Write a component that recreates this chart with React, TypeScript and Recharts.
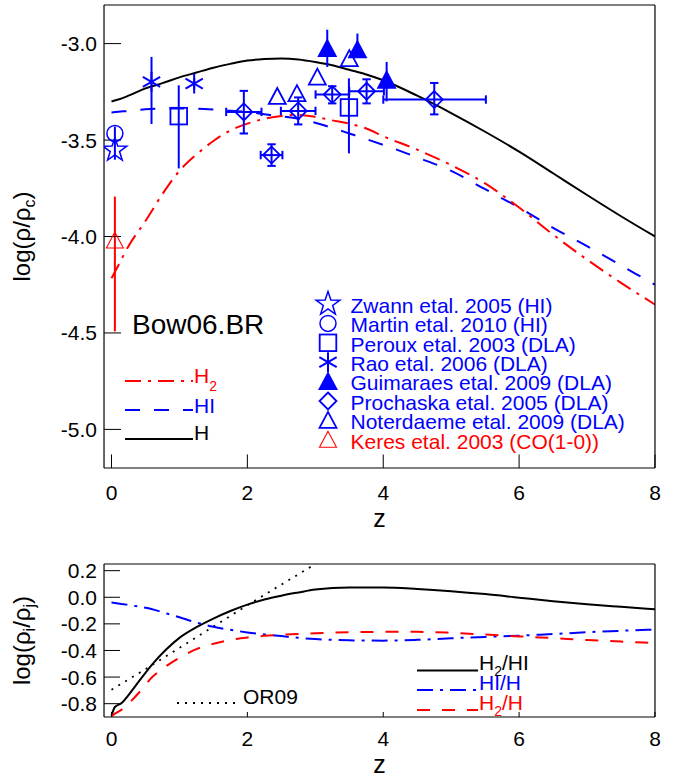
import React from 'react'
import { ComposedChart, Line, Scatter, XAxis, YAxis, ErrorBar, Legend } from 'recharts'

const BLUE = '#0000ff'
const RED = '#ff0000'
const FONT = '"Liberation Sans", Arial, Helvetica, sans-serif'

// model curves, upper panel: log(rho/rho_c) against z
const zModel = [0, 0.1, 0.25, 0.5, 0.75, 1, 1.25, 1.5, 1.75, 2, 2.25, 2.5, 2.75, 3, 3.25, 3.5, 3.75, 4, 4.5, 5, 5.5, 6, 6.5, 7, 7.5, 8]
const logH = [-3.3, -3.29, -3.27, -3.232, -3.205, -3.175, -3.15, -3.125, -3.105, -3.088, -3.08, -3.077, -3.082, -3.095, -3.112, -3.136, -3.16, -3.19, -3.27, -3.36, -3.457, -3.56, -3.672, -3.785, -3.895, -4.0]
const logHI = [-3.357, -3.353, -3.35, -3.34, -3.337, -3.337, -3.338, -3.342, -3.348, -3.355, -3.366, -3.377, -3.39, -3.41, -3.437, -3.466, -3.495, -3.525, -3.59, -3.66, -3.755, -3.85, -3.955, -4.05, -4.15, -4.25]
const logH2 = [-4.216, -4.15, -4.05, -3.92, -3.78, -3.66, -3.575, -3.505, -3.45, -3.415, -3.39, -3.375, -3.37, -3.38, -3.398, -3.415, -3.44, -3.48, -3.55, -3.63, -3.725, -3.85, -3.99, -4.12, -4.24, -4.353]

// ratio curves, lower panel
const zRatio = [0, 0.05, 0.15, 0.25, 0.4, 0.6, 0.8, 1, 1.25, 1.5, 1.75, 2, 2.25, 2.5, 2.75, 3, 3.5, 4, 4.5, 5, 5.5, 6, 6.5, 7, 7.5, 8]
const ratioH2HI = [-0.89, -0.825, -0.795, -0.735, -0.635, -0.505, -0.395, -0.305, -0.225, -0.16, -0.103, -0.055, -0.017, 0.012, 0.036, 0.058, 0.074, 0.074, 0.063, 0.046, 0.024, -0.003, -0.03, -0.053, -0.072, -0.09]
const ratioHIH = [-0.04, -0.043, -0.05, -0.058, -0.07, -0.09, -0.12, -0.15, -0.19, -0.222, -0.245, -0.264, -0.279, -0.292, -0.305, -0.314, -0.324, -0.326, -0.32, -0.308, -0.298, -0.289, -0.276, -0.263, -0.252, -0.243]
const ratioH2H = [-0.894, -0.875, -0.845, -0.8, -0.72, -0.6, -0.52, -0.455, -0.39, -0.35, -0.32, -0.302, -0.29, -0.282, -0.276, -0.27, -0.263, -0.26, -0.26, -0.267, -0.28, -0.294, -0.307, -0.321, -0.333, -0.344]
const zOR09 = [0, 0.5, 1, 1.5, 2, 2.5, 3, 3.3]
const ratioOR09 = [-0.695, -0.54, -0.38, -0.22, -0.06, 0.095, 0.25, 0.345]

// observations: z, log value, y errors [minus, plus], x errors
const zwaan = [{ z: 0.05, y: -3.552, ey: [0.05, 0.05] }]
const martin = [{ z: 0.05, y: -3.466, ey: [0.035, 0.035] }]
const peroux = [
  { z: 0.99, y: -3.376, ey: [0.271, 0.16] },
  { z: 3.495, y: -3.331, ey: [0.238, 0.151] },
]
const rao = [
  { z: 0.589, y: -3.198, ey: [0.219, 0.129] },
  { z: 1.217, y: -3.207, ey: [0.03, 0.03] },
]
const guimaraes = [
  { z: 3.176, y: -3.026, ey: [0.095, 0.098] },
  { z: 3.62, y: -3.033, ey: [0.03, 0.085] },
  { z: 4.05, y: -3.19, ey: [0.11, 0.095] },
]
const prochaska = [
  { z: 1.948, y: -3.354, ey: [0.112, 0.109], ex: [0.26, 0.26] },
  { z: 2.356, y: -3.578, ey: [0.056, 0.056], ex: [0.16, 0.16] },
  { z: 2.748, y: -3.349, ey: [0.07, 0.07], ex: [0.255, 0.255] },
  { z: 3.249, y: -3.264, ey: [0.046, 0.043], ex: [0.245, 0.245] },
  { z: 3.755, y: -3.247, ey: [0.063, 0.062], ex: [0.255, 0.255] },
  { z: 4.751, y: -3.29, ey: [0.077, 0.086], ex: [0.75, 0.76] },
]
const noterdaeme = [
  { z: 2.44, y: -3.274 },
  { z: 2.73, y: -3.259 },
  { z: 3.03, y: -3.174 },
  { z: 3.5, y: -3.078 },
]
const keres = [{ z: 0.05, y: -4.021, ey: [0.471, 0.228] }]

const xMajor = [0, 2, 4, 6, 8]
const topYMajor = [-5.0, -4.5, -4.0, -3.5, -3.0]
const botYMajor = [-0.8, -0.6, -0.4, -0.2, 0.0, 0.2]

const steps = (a: number, b: number, d: number) =>
  Array.from({ length: Math.round((b - a) / d) + 1 }, (_, i) => +(a + i * d).toFixed(3))
const xMinor = steps(0, 8, 0.5)
const topYMinor = steps(-5.2, -2.8, 0.1)
const botYMinor = steps(-0.9, 0.25, 0.05)

const pts = (zs: number[], ys: number[]) => zs.map((z, i) => ({ z, y: ys[i] }))

const DASH = '15 14'
const DASHDOT = '16 7 3 7'
const DASH_RED = '13 12'
const DOTS = '2 6'

type P = { cx?: number; cy?: number }

const starShape = (color: string) => (p: P) => {
  const { cx = 0, cy = 0 } = p
  const v: string[] = []
  for (let i = 0; i < 10; i++) {
    const r = i % 2 ? 4.9 : 12.5
    const a = -Math.PI / 2 + (i * Math.PI) / 5
    v.push(`${cx + r * Math.cos(a)},${cy + r * Math.sin(a)}`)
  }
  return <polygon points={v.join(' ')} fill="none" stroke={color} strokeWidth={1.5} />
}
const circleShape = (color: string) => (p: P) => (
  <circle cx={p.cx} cy={p.cy} r={8} fill="none" stroke={color} strokeWidth={1.5} />
)
const squareShape = (color: string) => (p: P) => {
  const { cx = 0, cy = 0 } = p
  return <rect x={cx - 8.3} y={cy - 8.3} width={16.6} height={16.6} fill="none" stroke={color} strokeWidth={1.8} />
}
const asteriskShape = (color: string) => (p: P) => {
  const { cx = 0, cy = 0 } = p
  const dx = 10 * Math.cos(Math.PI / 6)
  const dy = 10 * Math.sin(Math.PI / 6)
  return (
    <g stroke={color} strokeWidth={2}>
      <line x1={cx} y1={cy - 10} x2={cx} y2={cy + 10} />
      <line x1={cx - dx} y1={cy - dy} x2={cx + dx} y2={cy + dy} />
      <line x1={cx - dx} y1={cy + dy} x2={cx + dx} y2={cy - dy} />
    </g>
  )
}
const triangleShape = (color: string, filled: boolean, sw = 1.8) => (p: P) => {
  const { cx = 0, cy = 0 } = p
  const v = `${cx},${cy - 8.5} ${cx - 8.5},${cy + 7.5} ${cx + 8.5},${cy + 7.5}`
  return <polygon points={v} fill={filled ? color : 'none'} stroke={color} strokeWidth={sw} strokeLinejoin="miter" />
}
const diamondShape = (color: string) => (p: P) => {
  const { cx = 0, cy = 0 } = p
  const v = `${cx},${cy - 8.5} ${cx + 8.5},${cy} ${cx},${cy + 8.5} ${cx - 8.5},${cy}`
  return <polygon points={v} fill="none" stroke={color} strokeWidth={1.8} />
}

const sources = [
  { name: 'Zwann etal. 2005 (HI)', color: BLUE, shape: starShape(BLUE) },
  { name: 'Martin etal. 2010 (HI)', color: BLUE, shape: circleShape(BLUE) },
  { name: 'Peroux etal. 2003 (DLA)', color: BLUE, shape: squareShape(BLUE) },
  { name: 'Rao etal. 2006 (DLA)', color: BLUE, shape: asteriskShape(BLUE) },
  { name: 'Guimaraes etal. 2009 (DLA)', color: BLUE, shape: triangleShape(BLUE, true) },
  { name: 'Prochaska etal. 2005 (DLA)', color: BLUE, shape: diamondShape(BLUE) },
  { name: 'Noterdaeme etal. 2009 (DLA)', color: BLUE, shape: triangleShape(BLUE, false) },
  { name: 'Keres etal. 2003 (CO(1-0))', color: RED, shape: triangleShape(RED, false, 1.1) },
]

const tickStroke = { stroke: '#000', strokeWidth: 1 }
const frameStroke = { stroke: '#000', strokeWidth: 1.2 }
const tickFont = { fontSize: 21, fill: '#000', fontFamily: FONT }

function zTitle(dy: number) {
  return (props: any) => {
    const vb = props.viewBox || { x: 104, y: 0, width: 551 }
    return (
      <text x={vb.x + vb.width / 2} y={vb.y + dy} textAnchor="middle" fontSize={25} fontFamily={FONT} fill="#000">
        z
      </text>
    )
  }
}

function yTitle(kind: 'top' | 'bottom') {
  return (props: any) => {
    const vb = props.viewBox || { x: 104, y: 0, height: 400 }
    const x = vb.x - 74
    const y = vb.y + vb.height / 2
    return (
      <text transform={`rotate(-90 ${x} ${y})`} x={x} y={y} textAnchor="middle" fontSize={24} fontFamily={FONT} fill="#000">
        {kind === 'top' ? (
          <>
            <tspan>log(ρ/ρ</tspan>
            <tspan dy={5} fontSize={16}>c</tspan>
            <tspan dy={-5}>)</tspan>
          </>
        ) : (
          <>
            <tspan>log(ρ</tspan>
            <tspan dy={5} fontSize={16}>i</tspan>
            <tspan dy={-5}>/ρ</tspan>
            <tspan dy={5} fontSize={16}>j</tspan>
            <tspan dy={-5}>)</tspan>
          </>
        )}
      </text>
    )
  }
}

function boxAxes(p: {
  yDomain: [number, number]
  yTicks: number[]
  yMinor: number[]
  xLen: number
  yLen: number
  xGap: number
  yGap: number
  xTitle: any
  yTitle: any
}) {
  const xd: [number, number] = [-0.11, 8]
  const thin = 0.01
  return [
    <XAxis key="xb" xAxisId={0} dataKey="z" type="number" domain={xd} allowDataOverflow ticks={xMajor} interval={0}
      height={thin} tickSize={-p.xLen} tickMargin={p.xGap} tickLine={tickStroke} axisLine={frameStroke} tick={tickFont}
      label={p.xTitle} />,
    <XAxis key="xbm" xAxisId="xbm" type="number" domain={xd} allowDataOverflow ticks={xMinor} interval={0}
      height={thin} tickSize={-p.xLen / 2} tick={false} tickLine={tickStroke} axisLine={false} />,
    <XAxis key="xt" xAxisId="xt" orientation="top" type="number" domain={xd} allowDataOverflow ticks={xMajor} interval={0}
      height={thin} tickSize={-p.xLen} tick={false} tickLine={tickStroke} axisLine={frameStroke} />,
    <XAxis key="xtm" xAxisId="xtm" orientation="top" type="number" domain={xd} allowDataOverflow ticks={xMinor} interval={0}
      height={thin} tickSize={-p.xLen / 2} tick={false} tickLine={tickStroke} axisLine={false} />,
    <YAxis key="yl" yAxisId={0} type="number" domain={p.yDomain} allowDataOverflow ticks={p.yTicks} interval={0}
      width={thin} tickSize={-p.yLen} tickMargin={p.yGap} tickLine={tickStroke} axisLine={frameStroke} tick={tickFont}
      tickFormatter={(v: number) => v.toFixed(1)} label={p.yTitle} />,
    <YAxis key="ylm" yAxisId="ylm" type="number" domain={p.yDomain} allowDataOverflow ticks={p.yMinor} interval={0}
      width={thin} tickSize={-p.yLen / 2} tick={false} tickLine={tickStroke} axisLine={false} />,
    <YAxis key="yr" yAxisId="yr" orientation="right" type="number" domain={p.yDomain} allowDataOverflow ticks={p.yTicks}
      interval={0} width={thin} tickSize={-p.yLen} tick={false} tickLine={tickStroke} axisLine={frameStroke} />,
    <YAxis key="yrm" yAxisId="yrm" orientation="right" type="number" domain={p.yDomain} allowDataOverflow ticks={p.yMinor}
      interval={0} width={thin} tickSize={-p.yLen / 2} tick={false} tickLine={tickStroke} axisLine={false} />,
  ]
}

function TopKey() {
  const rowY = (i: number) => 304 + i * 19.4
  return (
    <svg width={674} height={536} style={{ position: 'absolute', left: 0, top: 0, overflow: 'visible' }} fontFamily={FONT}>
      <text x={132} y={334} fontSize={28} fill="#000">Bow06.BR</text>
      <line x1={125} x2={193} y1={381} y2={381} stroke={RED} strokeWidth={2} strokeDasharray={DASHDOT} />
      <text x={194} y={383} fontSize={21} fill={RED}>
        H<tspan dy={8} fontSize={14}>2</tspan>
      </text>
      <line x1={125} x2={193} y1={410} y2={410} stroke={BLUE} strokeWidth={2} strokeDasharray={DASH} />
      <text x={194} y={413} fontSize={21} fill={BLUE}>HI</text>
      <line x1={125} x2={193} y1={439} y2={439} stroke="#000" strokeWidth={2} />
      <text x={194} y={439.5} fontSize={21} fill="#000">H</text>
      {sources.map((s, i) => (
        <g key={s.name}>
          {s.shape({ cx: 328, cy: rowY(i) })}
          <text x={350.5} y={rowY(i) + 8.8} fontSize={21} fill={s.color}>{s.name}</text>
        </g>
      ))}
    </svg>
  )
}

function BottomKey() {
  return (
    <svg width={674} height={247} style={{ position: 'absolute', left: 0, top: 0, overflow: 'visible' }} fontFamily={FONT}>
      <line x1={417} x2={478} y1={140.5} y2={140.5} stroke="#000" strokeWidth={2} />
      <text x={479} y={140} fontSize={21} fill="#000">
        H<tspan dy={6} fontSize={14}>2</tspan><tspan dy={-6}>/HI</tspan>
      </text>
      <line x1={417} x2={478} y1={160} y2={160} stroke={BLUE} strokeWidth={2} strokeDasharray={DASHDOT} />
      <text x={479} y={160} fontSize={21} fill={BLUE}>HI/H</text>
      <line x1={417} x2={478} y1={180} y2={180} stroke={RED} strokeWidth={2} strokeDasharray={DASH_RED} />
      <text x={479} y={180} fontSize={21} fill={RED}>
        H<tspan dy={6} fontSize={14}>2</tspan><tspan dy={-6}>/H</tspan>
      </text>
      <line x1={177} x2={240} y1={173} y2={173} stroke="#000" strokeWidth={1.8} strokeDasharray={DOTS} />
      <text x={243} y={174} fontSize={21} fill="#000">OR09</text>
    </svg>
  )
}

export default function App() {
  return (
    <div style={{ position: 'absolute', left: 0, top: 0, width: 674, height: 777, background: '#fff', fontFamily: FONT }}>
      <div style={{ position: 'absolute', left: 0, top: 0 }}>
        <ComposedChart width={674} height={536} margin={{ top: 5, right: 19, bottom: 68, left: 104 }}>
          {boxAxes({
            yDomain: [-5.2, -2.8],
            yTicks: topYMajor,
            yMinor: topYMinor,
            xLen: 13.5,
            yLen: 17,
            xGap: 30.5,
            yGap: 24,
            xTitle: zTitle(59),
            yTitle: yTitle('top'),
          })}
          <Line data={pts(zModel, logH)} dataKey="y" type="monotone" stroke="#000" strokeWidth={2} dot={false} isAnimationActive={false} />
          <Line data={pts(zModel, logHI)} dataKey="y" type="monotone" stroke={BLUE} strokeWidth={2} strokeDasharray={DASH} dot={false} isAnimationActive={false} />
          <Line data={pts(zModel, logH2)} dataKey="y" type="monotone" stroke={RED} strokeWidth={2} strokeDasharray={DASHDOT} dot={false} isAnimationActive={false} />
          <Scatter data={keres} dataKey="y" shape={triangleShape(RED, false, 1.1)} isAnimationActive={false}>
            <ErrorBar dataKey="ey" direction="y" width={0} stroke={RED} strokeWidth={2} />
          </Scatter>
          <Scatter data={zwaan} dataKey="y" shape={starShape(BLUE)} isAnimationActive={false}>
            <ErrorBar dataKey="ey" direction="y" width={0} stroke={BLUE} strokeWidth={2} />
          </Scatter>
          <Scatter data={martin} dataKey="y" shape={circleShape(BLUE)} isAnimationActive={false}>
            <ErrorBar dataKey="ey" direction="y" width={0} stroke={BLUE} strokeWidth={2} />
          </Scatter>
          <Scatter data={peroux} dataKey="y" shape={squareShape(BLUE)} isAnimationActive={false}>
            <ErrorBar dataKey="ey" direction="y" width={0} stroke={BLUE} strokeWidth={2} />
          </Scatter>
          <Scatter data={rao} dataKey="y" shape={asteriskShape(BLUE)} isAnimationActive={false}>
            <ErrorBar dataKey="ey" direction="y" width={0} stroke={BLUE} strokeWidth={2} />
          </Scatter>
          <Scatter data={guimaraes} dataKey="y" shape={triangleShape(BLUE, true)} isAnimationActive={false}>
            <ErrorBar dataKey="ey" direction="y" width={0} stroke={BLUE} strokeWidth={2} />
          </Scatter>
          <Scatter data={prochaska} dataKey="y" shape={diamondShape(BLUE)} isAnimationActive={false}>
            <ErrorBar dataKey="ey" direction="y" width={4.2} stroke={BLUE} strokeWidth={2} />
            <ErrorBar dataKey="ex" direction="x" width={4.2} stroke={BLUE} strokeWidth={2} />
          </Scatter>
          <Scatter data={noterdaeme} dataKey="y" shape={triangleShape(BLUE, false)} isAnimationActive={false} />
          <Legend layout="horizontal" verticalAlign="middle" align="center"
            wrapperStyle={{ left: 0, top: 0, width: 674, height: 536 }} content={() => <TopKey />} />
        </ComposedChart>
      </div>
      <div style={{ position: 'absolute', left: 0, top: 530 }}>
        <ComposedChart width={674} height={247} margin={{ top: 34, right: 19, bottom: 60, left: 104 }}>
          {boxAxes({
            yDomain: [-0.9, 0.25],
            yTicks: botYMajor,
            yMinor: botYMinor,
            xLen: 5,
            yLen: 16,
            xGap: 19,
            yGap: 23,
            xTitle: zTitle(56),
            yTitle: yTitle('bottom'),
          })}
          <Line data={pts(zOR09, ratioOR09)} dataKey="y" type="monotone" stroke="#000" strokeWidth={1.8} strokeDasharray={DOTS} dot={false} isAnimationActive={false} />
          <Line data={pts(zRatio, ratioH2HI)} dataKey="y" type="monotone" stroke="#000" strokeWidth={2} dot={false} isAnimationActive={false} />
          <Line data={pts(zRatio, ratioHIH)} dataKey="y" type="monotone" stroke={BLUE} strokeWidth={2} strokeDasharray={DASHDOT} dot={false} isAnimationActive={false} />
          <Line data={pts(zRatio, ratioH2H)} dataKey="y" type="monotone" stroke={RED} strokeWidth={2} strokeDasharray={DASH_RED} dot={false} isAnimationActive={false} />
          <Legend layout="horizontal" verticalAlign="middle" align="center"
            wrapperStyle={{ left: 0, top: 0, width: 674, height: 247 }} content={() => <BottomKey />} />
        </ComposedChart>
      </div>
    </div>
  )
}
